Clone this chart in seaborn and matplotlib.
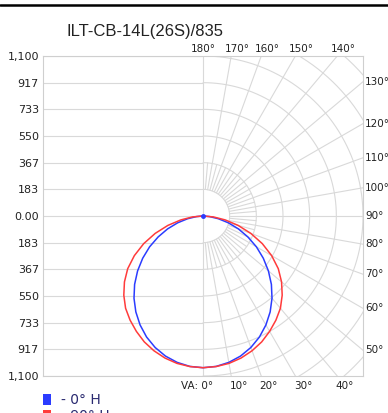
import numpy as np
import pandas as pd
import matplotlib
matplotlib.use("Agg")
import matplotlib.pyplot as plt
import seaborn as sns
from matplotlib.lines import Line2D
from matplotlib.patches import Rectangle

# vertical angle (deg from nadir) and candela values for the two C-planes
angles = [0, 5, 10, 15, 20, 25, 30, 35, 40, 45, 50, 55, 60, 65, 70, 75, 80, 85, 90]
i_0h = [1043, 1038, 1022, 997, 962, 918, 865, 805, 738, 665, 587, 506, 424, 340, 259, 180, 107, 44, 0]
i_90h = [1043, 1039, 1029, 1011, 986, 955, 916, 874, 828, 770, 705, 632, 545, 450, 350, 250, 155, 72, 0]
planes = ["- 0° H", "- 90° H"]
colors = ["#2b3cff", "#ff3b3b"]

ytick_vals = [1100, 916.7, 733.3, 550, 366.7, 183.3, 0, -183.3, -366.7, -550, -733.3, -916.7, -1100]
ytick_labels = ["1,100", "917", "733", "550", "367", "183", "0.00",
                "183", "367", "550", "733", "917", "1,100"]
top_angles = [180, 170, 160, 150, 140]
right_angles = [130, 120, 110, 100, 90, 80, 70, 60, 50]
bottom_angles = [0, 10, 20, 30, 40]
title = "ILT-CB-14L(26S)/835"

rmax = 1100
step = rmax / 6
px = 2 * rmax / 320  # data units per pixel

rows = []
for name, vals in zip(planes, [i_0h, i_90h]):
    # left half mirrored, then right half
    seq = [(-a, v) for a, v in zip(angles[::-1], vals[::-1])] + [(a, v) for a, v in zip(angles[1:], vals[1:])]
    for a, v in seq:
        t = np.radians(a)
        rows.append({"x": v * np.sin(t), "y": -v * np.cos(t), "plane": name})
df = pd.DataFrame(rows)

sns.set_style("white")
fig = plt.figure(figsize=(3.88, 4.13), dpi=100)
ax = fig.add_axes([43 / 388, 37 / 413, 320 / 388, 320 / 413])

grid_kw = dict(color="#d9d9d9", lw=0.8, zorder=1)

# left half: cartesian grid
for yv in ytick_vals:
    ax.plot([-rmax, 0], [yv, yv], **grid_kw)
ax.plot([0, 0], [-rmax, rmax], **grid_kw)

# right half: polar grid
th = np.radians(np.linspace(0, 180, 181))
for k in range(1, 9):
    r = k * step
    ax.plot(r * np.sin(th), -r * np.cos(th), **grid_kw)
for a in range(10, 180, 10):
    t = np.radians(a)
    ax.plot([step * np.sin(t), 2500 * np.sin(t)], [-step * np.cos(t), -2500 * np.cos(t)], **grid_kw)
for a in range(5, 180, 10):
    t = np.radians(a)
    ax.plot([step * np.sin(t), 2 * step * np.sin(t)], [-step * np.cos(t), -2 * step * np.cos(t)], **grid_kw)

sns.lineplot(data=df, x="x", y="y", hue="plane", palette=colors, sort=False,
             estimator=None, lw=1.1, legend=False, ax=ax, zorder=3)
ax.plot([0], [0], marker="o", ms=2.5, color=colors[0], zorder=4)

ax.set_xlim(-rmax, rmax)
ax.set_ylim(-rmax, rmax)
ax.set_xticks([])
ax.set_yticks(ytick_vals)
ax.set_yticklabels(ytick_labels, fontsize=8, color="#222222")
ax.tick_params(axis="y", length=0, pad=3)
ax.set_xlabel("")
ax.set_ylabel("")
for s in ax.spines.values():
    s.set_color("#cfcfcf")
    s.set_linewidth(0.8)

lab_kw = dict(fontsize=7.5, color="#222222", clip_on=False)
for a in top_angles:
    x = rmax * np.tan(np.radians(180 - a))
    if a != 180:
        x += 6 * px
    ax.text(x, rmax + 1.5 * px, f"{a}°", ha="center", va="bottom", **lab_kw)
for a in right_angles:
    y = rmax / np.tan(np.radians(a))
    ax.text(rmax + 2 * px, -y, f"{a}°", ha="left", va="center", **lab_kw)
for a in bottom_angles:
    x = rmax * np.tan(np.radians(a))
    if a == 0:
        ax.text(x + 10 * px, -rmax - 5 * px, "VA: 0°", ha="right", va="top", **lab_kw)
    else:
        ax.text(x + 7.5 * px, -rmax - 5 * px, f"{a}°", ha="center", va="top", **lab_kw)

# legend squares at the bottom (clipped by the figure edge)
for i, (name, c) in enumerate(zip(planes, colors)):
    yb = 1 - (405 + i * 16) / 413
    fig.add_artist(Rectangle((43 / 388, yb), 8 / 388, 11 / 413, transform=fig.transFigure,
                             color=c, lw=0))
    fig.text(61 / 388, yb + 5.5 / 413, name, fontsize=10, color="#2a2a70", va="center", ha="left")

fig.text(145.5 / 388, 1 - 36 / 413, title, fontsize=12, family="Liberation Sans",
         color="#222222", ha="center", va="baseline")
fig.add_artist(Line2D([0, 1], [1 - 4.5 / 413, 1 - 4.5 / 413], transform=fig.transFigure,
                      color="black", lw=1.8))

fig.savefig("out.png", dpi=100)
